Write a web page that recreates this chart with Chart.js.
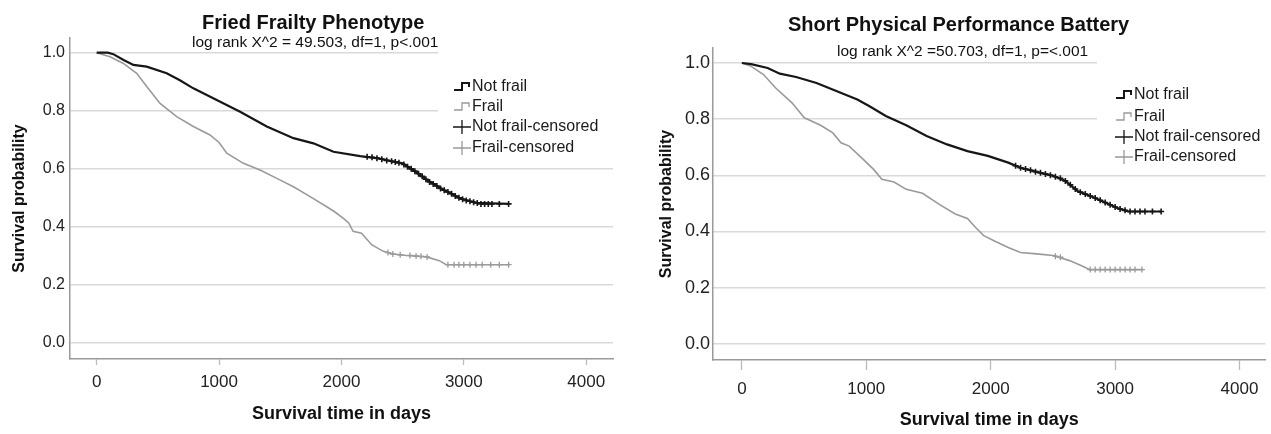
<!DOCTYPE html>
<html>
<head>
<meta charset="utf-8">
<script src="https://cdn.jsdelivr.net/npm/chart.js@4.4.0/dist/chart.umd.min.js"></script>
<style>
  html, body { margin: 0; padding: 0; background: #fff; }
  .wrap { position: absolute; top: 0; width: 635px; height: 434px; }
</style>
</head>
<body>
<div class="wrap" style="left:0"><canvas id="friedChart" width="635" height="434"></canvas></div>
<div class="wrap" style="left:636px"><canvas id="sppbChart" width="635" height="434"></canvas></div>
<script>
const FONT = "'Liberation Sans', Arial, sans-serif"

const xTicks = [0, 1000, 2000, 3000, 4000]
const yTicks = [0, 0.2, 0.4, 0.6, 0.8, 1.0]
const legendLabels = ['Not frail', 'Frail', 'Not frail-censored', 'Frail-censored']

// Fried Frailty Phenotype
const friedNotFrailDays = [0, 90, 136, 220, 300, 409, 572, 680, 790, 981, 1172, 1390, 1608, 1771, 1935, 2153, 2300, 2425, 2500, 2562, 2630, 2698, 2760, 2834, 2900, 2970, 3040, 3096, 3366]
const friedNotFrailSurv = [1.0, 1.0, 0.995, 0.975, 0.958, 0.952, 0.929, 0.905, 0.877, 0.837, 0.796, 0.745, 0.705, 0.687, 0.658, 0.643, 0.635, 0.624, 0.618, 0.601, 0.582, 0.561, 0.545, 0.526, 0.513, 0.497, 0.488, 0.482, 0.478]
const friedFrailDays = [0, 40, 109, 218, 327, 409, 518, 654, 790, 926, 1000, 1063, 1199, 1335, 1472, 1608, 1744, 1880, 1947, 2016, 2060, 2095, 2164, 2247, 2338, 2420, 2531, 2694, 2800, 2856, 3366]
const friedFrailSurv = [1.0, 0.995, 0.986, 0.963, 0.929, 0.883, 0.825, 0.779, 0.745, 0.716, 0.690, 0.653, 0.618, 0.595, 0.566, 0.537, 0.503, 0.468, 0.450, 0.428, 0.412, 0.383, 0.377, 0.337, 0.315, 0.305, 0.300, 0.295, 0.282, 0.268, 0.268]
const friedNotFrailCensored = [[2210, 0.641], [2250, 0.639], [2290, 0.636], [2330, 0.632], [2370, 0.628], [2410, 0.625], [2440, 0.623], [2470, 0.620], [2510, 0.614], [2540, 0.606], [2570, 0.599], [2600, 0.591], [2630, 0.582], [2660, 0.573], [2690, 0.563], [2720, 0.554], [2750, 0.547], [2780, 0.540], [2810, 0.531], [2840, 0.525], [2870, 0.519], [2900, 0.513], [2930, 0.505], [2960, 0.499], [2990, 0.494], [3020, 0.490], [3050, 0.487], [3080, 0.484], [3110, 0.481], [3140, 0.478], [3170, 0.478], [3200, 0.478], [3230, 0.478], [3290, 0.478], [3366, 0.478]]
const friedFrailCensored = [[2380, 0.310], [2420, 0.305], [2480, 0.302], [2560, 0.300], [2610, 0.298], [2650, 0.297], [2700, 0.295], [2870, 0.268], [2920, 0.268], [2960, 0.268], [3000, 0.268], [3050, 0.268], [3100, 0.268], [3150, 0.268], [3220, 0.268], [3290, 0.268], [3366, 0.268]]

// Short Physical Performance Battery
const sppbNotFrailDays = [0, 75, 207, 305, 436, 600, 764, 928, 1026, 1157, 1321, 1485, 1649, 1813, 1977, 2141, 2239, 2370, 2502, 2600, 2698, 2830, 2928, 3026, 3108, 3370]
const sppbNotFrailSurv = [1.0, 0.996, 0.982, 0.962, 0.950, 0.929, 0.899, 0.870, 0.846, 0.811, 0.778, 0.740, 0.710, 0.686, 0.669, 0.645, 0.627, 0.612, 0.598, 0.580, 0.544, 0.521, 0.501, 0.482, 0.471, 0.471]
const sppbFrailDays = [0, 75, 174, 272, 403, 502, 633, 731, 797, 862, 961, 1059, 1125, 1223, 1321, 1452, 1584, 1715, 1813, 1879, 1944, 2043, 2141, 2239, 2370, 2502, 2633, 2731, 2797, 3216]
const sppbFrailSurv = [1.0, 0.988, 0.959, 0.911, 0.858, 0.805, 0.778, 0.751, 0.716, 0.704, 0.663, 0.621, 0.586, 0.576, 0.550, 0.536, 0.497, 0.462, 0.446, 0.414, 0.385, 0.363, 0.343, 0.325, 0.320, 0.314, 0.296, 0.278, 0.264, 0.264]
const sppbNotFrailCensored = [[2200, 0.634], [2240, 0.627], [2280, 0.622], [2320, 0.618], [2360, 0.613], [2400, 0.609], [2440, 0.605], [2480, 0.600], [2520, 0.595], [2560, 0.589], [2600, 0.580], [2640, 0.566], [2680, 0.551], [2720, 0.540], [2760, 0.533], [2800, 0.526], [2840, 0.519], [2880, 0.511], [2920, 0.503], [2960, 0.495], [3000, 0.487], [3040, 0.480], [3080, 0.475], [3120, 0.471], [3160, 0.471], [3200, 0.471], [3240, 0.471], [3300, 0.471], [3370, 0.471]]
const sppbFrailCensored = [[2520, 0.312], [2560, 0.308], [2800, 0.264], [2840, 0.264], [2880, 0.264], [2920, 0.264], [2960, 0.264], [3000, 0.264], [3040, 0.264], [3080, 0.264], [3120, 0.264], [3160, 0.264], [3216, 0.264]]

const BLACK = '#161616'
const GREY = '#9a9a9a'

function toPoints(days, surv) {
  return days.map((d, i) => ({ x: d, y: surv[i] }))
}

// titles + legend drawn on top of the plot like the SPSS output
const spssDecor = {
  id: 'spssDecor',
  beforeDatasetsDraw(chart, args, o) {
    const a = chart.chartArea
    const ctx = chart.ctx
    ctx.save()
    ctx.fillStyle = '#fff'
    ctx.fillRect(o.boxX, a.top, a.right - o.boxX + 1, o.boxBottom - a.top)
    ctx.restore()
  },
  afterDraw(chart, args, o) {
    const ctx = chart.ctx
    ctx.save()
    ctx.fillStyle = '#111'
    ctx.textBaseline = 'middle'
    ctx.textAlign = 'left'
    ctx.font = 'bold 20px ' + FONT
    ctx.fillText(o.title, o.titleX, o.titleY)
    ctx.font = '15.5px ' + FONT
    ctx.fillText(o.subtitle, o.subX, o.subY)

    ctx.font = '16px ' + FONT
    const colors = [BLACK, GREY, BLACK, GREY]
    legendLabels.forEach((lab, i) => {
      const y = o.legendY[i]
      const x = o.legendX
      ctx.strokeStyle = colors[i]
      ctx.lineWidth = i === 0 ? 2 : 1.3
      ctx.beginPath()
      if (i < 2) {
        ctx.moveTo(x + 1, y + 3)
        ctx.lineTo(x + 9, y + 3)
        ctx.lineTo(x + 9, y - 4)
        ctx.lineTo(x + 16, y - 4)
        ctx.lineTo(x + 16, y)
      } else {
        ctx.moveTo(x, y)
        ctx.lineTo(x + 18, y)
        ctx.moveTo(x + 9, y - 7)
        ctx.lineTo(x + 9, y + 7)
      }
      ctx.stroke()
      ctx.fillStyle = '#1a1a1a'
      ctx.fillText(lab, x + 19, y)
    })
    ctx.restore()
  },
}

function makeKM(id, cfg) {
  const ctx = document.getElementById(id).getContext('2d')
  return new Chart(ctx, {
    type: 'line',
    data: {
      datasets: [
        {
          data: toPoints(cfg.notFrailDays, cfg.notFrailSurv),
          borderColor: BLACK,
          borderWidth: 2.2,
          pointRadius: 0,
          tension: 0,
        },
        {
          data: toPoints(cfg.frailDays, cfg.frailSurv),
          borderColor: GREY,
          borderWidth: 1.6,
          pointRadius: 0,
          tension: 0,
        },
        {
          data: cfg.notFrailCens.map(p => ({ x: p[0], y: p[1] })),
          showLine: false,
          pointStyle: 'cross',
          pointRadius: 3,
          borderColor: BLACK,
          borderWidth: 1.6,
        },
        {
          data: cfg.frailCens.map(p => ({ x: p[0], y: p[1] })),
          showLine: false,
          pointStyle: 'cross',
          pointRadius: 3,
          borderColor: GREY,
          borderWidth: 1.3,
        },
      ],
    },
    options: {
      responsive: false,
      animation: false,
      layout: { padding: cfg.padding },
      plugins: {
        legend: { display: false },
        tooltip: { enabled: false },
        spssDecor: cfg.decor,
      },
      scales: {
        x: {
          type: 'linear',
          min: cfg.xMin,
          max: cfg.xMax,
          afterBuildTicks: s => { s.ticks = xTicks.map(v => ({ value: v })) },
          afterFit: s => { s.height = cfg.xAxisHeight },
          border: { color: '#9a9a9a', width: 1.5 },
          grid: { drawOnChartArea: false, drawTicks: true, tickLength: cfg.tickLen, tickColor: '#bbb', tickWidth: 1.3 },
          ticks: {
            color: '#222',
            padding: cfg.xTickPad,
            maxRotation: 0,
            font: { family: FONT, size: 17 },
            callback: v => String(v),
          },
          title: {
            display: true,
            text: 'Survival time in days',
            color: '#111',
            font: { family: FONT, size: 18, weight: 'bold' },
            padding: { top: 0, bottom: cfg.xTitlePad },
          },
        },
        y: {
          type: 'linear',
          min: cfg.yMin,
          max: cfg.yMax,
          afterBuildTicks: s => { s.ticks = yTicks.map(v => ({ value: v })) },
          afterFit: s => { s.width = cfg.yAxisWidth },
          border: { color: '#9a9a9a', width: 1.5 },
          grid: { color: '#d9d9d9', lineWidth: 1.5, drawTicks: false },
          ticks: {
            color: '#222',
            padding: cfg.yTickPad,
            font: { family: FONT, size: cfg.yTickSize },
            callback: v => v.toFixed(1),
          },
          title: {
            display: true,
            text: 'Survival probability',
            color: '#111',
            font: { family: FONT, size: 16, weight: 'bold' },
            padding: { top: cfg.yTitlePad, bottom: 0 },
          },
        },
      },
    },
    plugins: [spssDecor],
  })
}

makeKM('friedChart', {
  notFrailDays: friedNotFrailDays,
  notFrailSurv: friedNotFrailSurv,
  frailDays: friedFrailDays,
  frailSurv: friedFrailSurv,
  notFrailCens: friedNotFrailCensored,
  frailCens: friedFrailCensored,
  padding: { top: 38, right: 22, bottom: 0, left: 0 },
  xMin: -218, xMax: 4219, yMin: -0.0576, yMax: 1.0508,
  xAxisHeight: 75, yAxisWidth: 70,
  tickLen: 6, xTickPad: 7, xTitlePad: 9, yTickPad: 5, yTickSize: 16, yTitlePad: 10,
  decor: {
    title: 'Fried Frailty Phenotype', titleX: 202, titleY: 23,
    subtitle: 'log rank X^2 = 49.503, df=1, p<.001', subX: 192, subY: 43,
    boxX: 438, boxBottom: 161,
    legendX: 453, legendY: [87, 107, 127, 148],
  },
})

makeKM('sppbChart', {
  notFrailDays: sppbNotFrailDays,
  notFrailSurv: sppbNotFrailSurv,
  frailDays: sppbFrailDays,
  frailSurv: sppbFrailSurv,
  notFrailCens: sppbNotFrailCensored,
  frailCens: sppbFrailCensored,
  padding: { top: 48, right: 3, bottom: 0, left: 0 },
  xMin: -232, xMax: 4208, yMin: -0.058, yMax: 1.0534,
  xAxisHeight: 74, yAxisWidth: 77,
  tickLen: 10, xTickPad: 9, xTitlePad: 3, yTickPad: 3, yTickSize: 18, yTitlePad: 21,
  decor: {
    title: 'Short Physical Performance Battery', titleX: 152, titleY: 25,
    subtitle: 'log rank X^2 =50.703, df=1, p=<.001', subX: 201, subY: 52,
    boxX: 461, boxBottom: 169,
    legendX: 479, legendY: [95, 117, 137, 157],
  },
})
</script>
</body>
</html>
